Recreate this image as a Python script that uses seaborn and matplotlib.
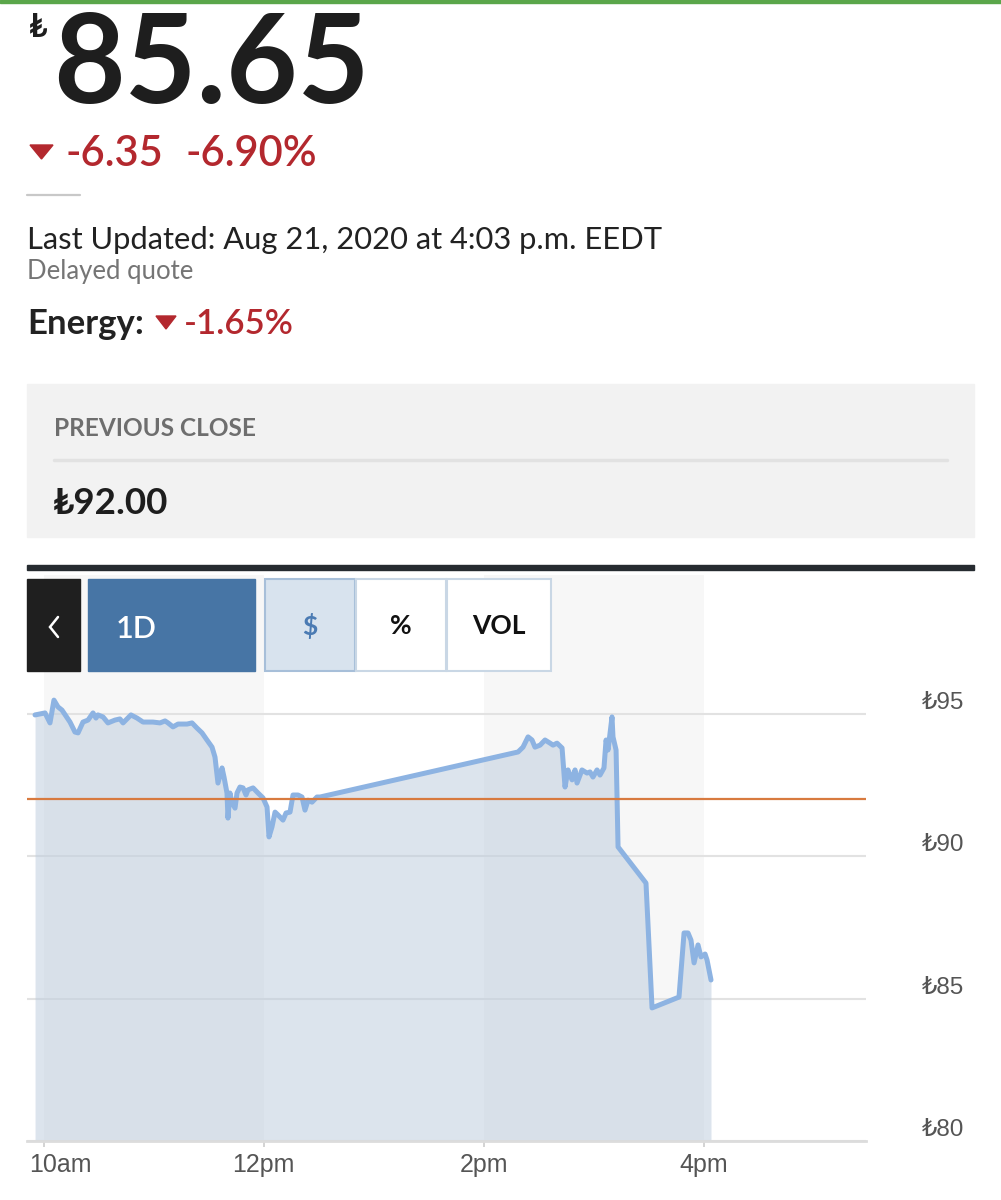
import numpy as np
import pandas as pd
import matplotlib
matplotlib.use('Agg')
import matplotlib.pyplot as plt
from matplotlib import font_manager
from matplotlib.patches import Rectangle, Polygon
from matplotlib.transforms import ScaledTranslation
import seaborn as sns

# intraday price, time in hours of the day
hours = [9.923, 10.014, 10.059, 10.095, 10.132, 10.168, 10.241, 10.286, 10.314, 10.359,
         10.405, 10.450, 10.477, 10.495, 10.541, 10.586, 10.650, 10.695, 10.723, 10.795,
         10.850, 10.905, 10.995, 11.059, 11.105, 11.132, 11.177, 11.223, 11.305, 11.350,
         11.395, 11.441, 11.486, 11.532, 11.559, 11.586, 11.623, 11.641, 11.668, 11.677,
         11.695, 11.714, 11.741, 11.759, 11.786, 11.814, 11.841, 11.859, 11.905, 11.950,
         11.995, 12.032, 12.050, 12.077, 12.105, 12.132, 12.177, 12.205, 12.241, 12.268,
         12.314, 12.350, 12.377, 12.405, 12.441, 12.486, 12.514, 14.314, 14.359, 14.405,
         14.441, 14.468, 14.514, 14.559, 14.605, 14.632, 14.668, 14.714, 14.741, 14.768,
         14.805, 14.832, 14.850, 14.895, 14.941, 14.968, 14.995, 15.032, 15.059, 15.095,
         15.114, 15.132, 15.168, 15.177, 15.205, 15.223, 15.477, 15.532, 15.777, 15.823,
         15.859, 15.886, 15.914, 15.950, 15.977, 16.014, 16.032, 16.068]
prices = [94.95, 95.02, 94.67, 95.47, 95.23, 95.12, 94.70, 94.35, 94.32, 94.70,
          94.77, 95.02, 94.84, 94.95, 94.88, 94.67, 94.77, 94.81, 94.67, 94.95,
          94.84, 94.70, 94.70, 94.67, 94.74, 94.67, 94.53, 94.63, 94.63, 94.67,
          94.49, 94.32, 94.07, 93.82, 93.47, 92.56, 93.09, 92.77, 92.21, 91.33,
          92.21, 91.86, 91.68, 92.21, 92.42, 92.39, 92.14, 92.32, 92.39, 92.21,
          92.04, 91.72, 90.67, 91.02, 91.54, 91.44, 91.26, 91.51, 91.54, 92.14,
          92.14, 92.07, 91.61, 91.96, 91.89, 92.07, 92.07, 93.65, 93.82, 94.18,
          94.07, 93.82, 93.89, 94.07, 93.96, 93.89, 93.96, 93.79, 92.42, 93.02,
          92.67, 93.02, 92.56, 93.02, 92.91, 92.95, 92.77, 93.02, 92.84, 93.09,
          94.07, 93.72, 94.88, 94.18, 93.72, 90.32, 89.05, 84.67, 85.05, 87.30,
          87.30, 87.05, 86.25, 86.88, 86.46, 86.56, 86.35, 85.65]

prev_close = 92.00
last_price = '85.65'
change = '-6.35'
change_pct = '-6.90%'
sector = 'Energy:'
sector_pct = '-1.65%'
updated = 'Last Updated: Aug 21, 2020 at 4:03 p.m. EEDT'

y_ticks = [80, 85, 90, 95]
y_labels = ['₺80', '₺85', '₺90', '₺95']
x_ticks = [10, 12, 14, 16]
x_labels = ['10am', '12pm', '2pm', '4pm']
shaded = [(10, 12), (14, 16)]
buttons = ['$', '%', 'VOL']

df = pd.DataFrame({'hours': hours, 'price': prices})

sns.set_theme(style='white')
plt.rcParams['font.family'] = ['Lato', 'DejaVu Sans']

installed = {f.name for f in font_manager.fontManager.ttflist}
tick_font = ['Liberation Sans Narrow', 'DejaVu Sans'] if 'Liberation Sans Narrow' in installed \
    else ['Liberation Sans', 'DejaVu Sans']

W, H = 1001, 1200
fig = plt.figure(figsize=(W / 100, H / 100), dpi=100, facecolor='white')

# chart area
ax = fig.add_axes([27 / W, (H - 1141) / H, 839 / W, 566 / H])
ax.set_facecolor('white')
for a, b in shaded:
    ax.axvspan(a, b, color='#f7f7f7', zorder=0, lw=0)
ax.fill_between(df['hours'], df['price'], 80, color='#bbcbdd', alpha=0.5, lw=0, zorder=1)
sns.lineplot(data=df, x='hours', y='price', ax=ax, color='#8db3e2', lw=3.6,
             estimator=None, sort=False, zorder=3)
ax.lines[-1].set_solid_joinstyle('round')
ax.axhline(prev_close, color='#d87a3f', lw=1.6, zorder=4)

ax.set_xlim(9.85, 17.477)
ax.set_ylim(80, 99.86)
ax.set_xlabel('')
ax.set_ylabel('')
ax.set_xticks(x_ticks)
ax.set_xticklabels(x_labels)
ax.set_yticks(y_ticks)
ax.set_yticklabels(y_labels)
ax.yaxis.tick_right()
ax.yaxis.grid(True, color='#e2e2e2', lw=1.5)
ax.set_axisbelow(True)
for s in ['top', 'left', 'right']:
    ax.spines[s].set_visible(False)
ax.spines['bottom'].set_color('#dcdcdc')
ax.spines['bottom'].set_linewidth(2)
ax.tick_params(axis='x', direction='out', length=4.5, width=1.2, color='#cccccc',
               labelsize=18, labelcolor='#555555', pad=4, bottom=True)
ax.tick_params(axis='y', length=0, labelsize=17.5, labelcolor='#555555', pad=40)
for lab in ax.get_xticklabels() + ax.get_yticklabels():
    lab.set_family(tick_font)
for lab in ax.get_yticklabels():
    lab.set_verticalalignment('bottom')
# first time label is pushed right so it stays inside the chart
first = ax.get_xticklabels()[0]
first.set_transform(first.get_transform() + ScaledTranslation(0.17, 0, fig.dpi_scale_trans))

# page furniture drawn in pixel coordinates
ov = fig.add_axes([0, 0, 1, 1], zorder=5)
ov.set_xlim(0, W)
ov.set_ylim(H, 0)
ov.axis('off')

red = '#b3282e'
ov.add_patch(Rectangle((0, 0), W, 3, color='#5aa64a'))
ov.text(29, 37, '₺', fontsize=23, fontweight='bold', color='#1e1e1e', va='baseline')
ov.text(53, 103, last_price, fontsize=89, fontweight='bold', color='#1e1e1e', va='baseline')
ov.add_patch(Polygon([(30, 145), (53, 145), (41.5, 159)], color=red))
ov.text(66, 166, change, fontsize=30, fontweight='semibold', color=red, va='baseline')
ov.text(185, 166, change_pct, fontsize=30, fontweight='semibold', color=red, va='baseline')
ov.plot([27, 80], [195, 195], color='#c8c8c8', lw=1.6)

ov.text(27, 249, updated, fontsize=22.2, color='#222222', va='baseline')
ov.text(27, 279, 'Delayed quote', fontsize=18.5, color='#757575', va='baseline')
ov.text(27, 334, sector, fontsize=25, fontweight='bold', color='#222222', va='baseline')
ov.add_patch(Polygon([(156, 316), (176, 316), (166, 329)], color=red))
ov.text(184, 334, sector_pct, fontsize=25, fontweight='semibold', color=red, va='baseline')

ov.add_patch(Rectangle((27, 384), 947, 153, color='#f2f2f2'))
ov.text(54, 436, 'PREVIOUS CLOSE', fontsize=17.6, fontweight='bold', color='#6e6e6e',
        va='baseline')
ov.plot([54, 947], [460, 460], color='#e2e2e2', lw=2.5)
ov.text(53, 514, '₺' + f'{prev_close:.2f}', fontsize=26.5, fontweight='bold', color='#1e1e1e',
        va='baseline')
ov.add_patch(Rectangle((27, 565), 947, 5, color='#262b30'))

ov.add_patch(Rectangle((27, 579), 53, 92, color='#1f1f1f'))
ov.plot([58, 50, 58], [617, 627, 637], color='white', lw=1.8, solid_joinstyle='miter')
ov.add_patch(Rectangle((88, 579), 167, 92, color='#4775a5'))
ov.text(116, 629, '1D', fontsize=22, fontweight='semibold', color='white', ha='left',
        va='center')
box_x = [265, 356, 447]
box_w = [90, 90, 104]
for i, lab in enumerate(buttons):
    fc = '#d8e3ee' if i == 0 else 'white'
    ec = '#a7bfd9' if i == 0 else '#c9d7e5'
    ov.add_patch(Rectangle((box_x[i], 579), box_w[i], 92, fc=fc, ec=ec, lw=1.5))
    ov.text(box_x[i] + box_w[i] / 2, 626, lab, fontsize=19, fontweight='bold',
            color='#4b7bb3' if i == 0 else '#111111', ha='center', va='center')

fig.savefig('out.png', dpi=100, facecolor='white')
